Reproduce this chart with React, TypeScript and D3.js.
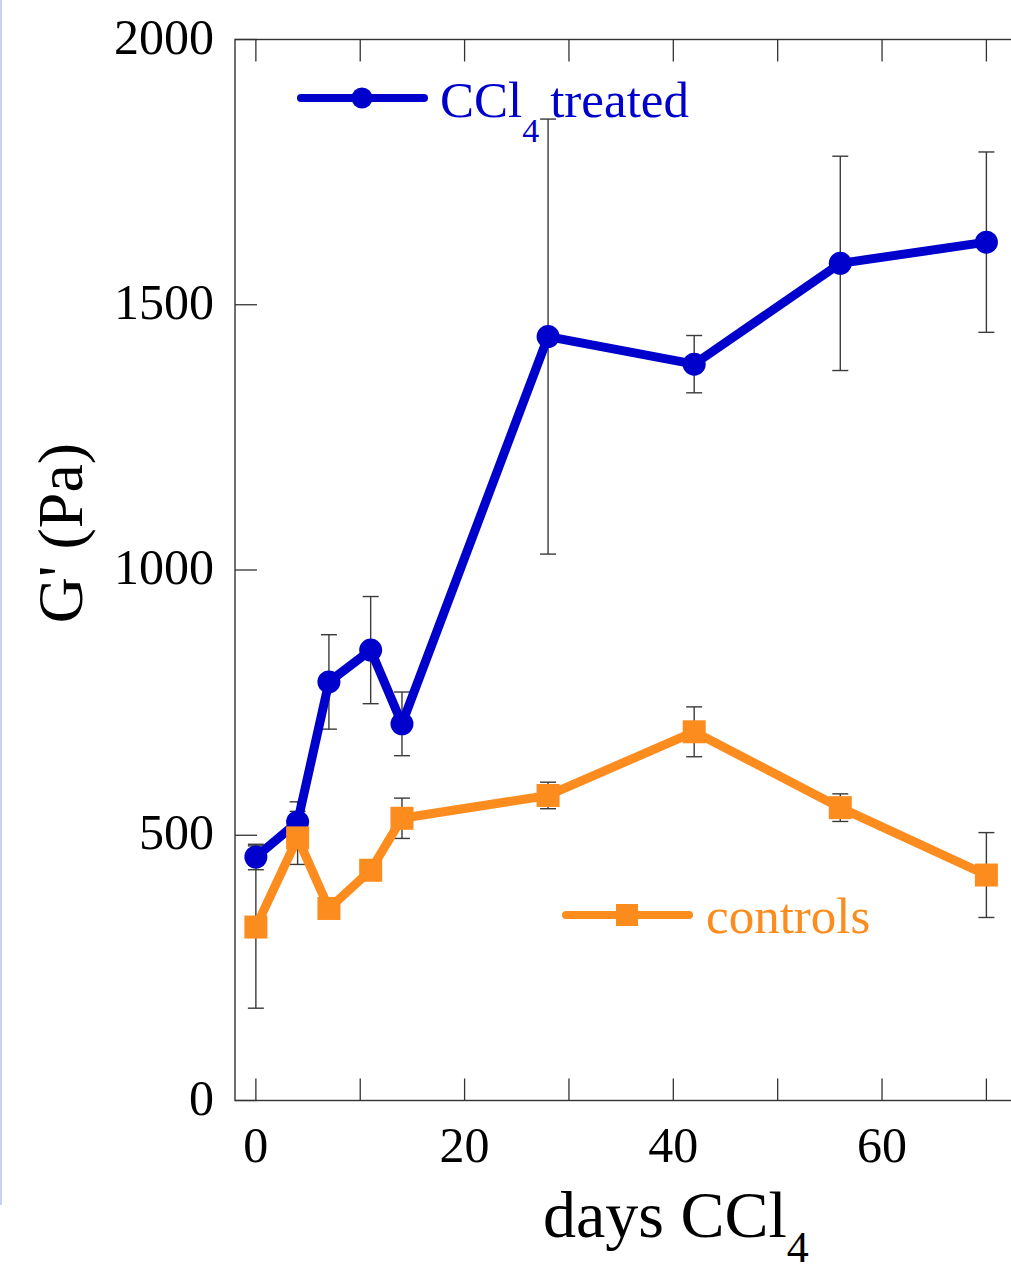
import React from "react";
import * as d3 from "d3";

// days of CCl4 exposure
const days = [0, 4, 7, 11, 14, 28, 42, 56, 70];

// G' (Pa), CCl4 treated
const treatedMean = [459, 525, 789, 849, 710, 1440, 1388, 1578, 1618];
const treatedErr = [24, 38, 89, 101, 60, 410, 54, 202, 170];

// G' (Pa), controls
const controlMean = [327, 495, 362, 434, 532, 575, 695, 552, 425];
const controlErr = [153, 50, 12, 12, 38, 25, 47, 26, 80];

const xTickValues = [0, 10, 20, 30, 40, 50, 60, 70];
const xTickLabels = [0, 20, 40, 60];
const yTickValues = [0, 500, 1000, 1500, 2000];

const W = 1011;
const H = 1271;
const BLUE = "#0000cc";
const ORANGE = "#fd8c1e";
const FONT = "'Liberation Serif', 'Times New Roman', serif";

export default function App() {
  // 10.44 px per day, frame starts at day -2
  const x = d3.scaleLinear().domain([-2, 73]).range([235, 1017.7]);
  const y = d3.scaleLinear().domain([0, 2000]).range([1100.5, 39.5]);

  const line = d3
    .line<number>()
    .x((_, i) => x(days[i]))
    .y((d) => y(d));

  const left = x.range()[0];
  const right = x.range()[1];
  const top = y.range()[1];
  const bottom = y.range()[0];
  const tick = 22;

  const errBars = (mean: number[], err: number[], key: string) =>
    days.map((d, i) => (
      <g key={key + i} stroke="#3a3a3a" strokeWidth={1.4}>
        <line x1={x(d)} x2={x(d)} y1={y(mean[i] + err[i])} y2={y(mean[i] - err[i])} />
        <line x1={x(d) - 8} x2={x(d) + 8} y1={y(mean[i] + err[i])} y2={y(mean[i] + err[i])} />
        <line x1={x(d) - 8} x2={x(d) + 8} y1={y(mean[i] - err[i])} y2={y(mean[i] - err[i])} />
      </g>
    ));

  return (
    <svg
      width={W}
      height={H}
      style={{ position: "absolute", left: 0, top: 0, background: "#fff" }}
      fontFamily={FONT}
    >
      <rect x={0} y={0} width={W} height={H} fill="#fff" />
      {/* faint edge left over from the original crop */}
      <rect x={0} y={0} width={2} height={1205} fill="#c9d1f7" />

      {/* frame */}
      <rect
        x={left}
        y={top}
        width={right - left}
        height={bottom - top}
        fill="none"
        stroke="#333"
        strokeWidth={1.4}
      />

      {/* x ticks, bottom and top, pointing inward */}
      {xTickValues.map((t) => (
        <g key={"xt" + t} stroke="#333" strokeWidth={1.3}>
          <line x1={x(t)} x2={x(t)} y1={bottom} y2={bottom - tick} />
          <line x1={x(t)} x2={x(t)} y1={top} y2={top + tick} />
        </g>
      ))}
      {xTickLabels.map((t) => (
        <text key={"xl" + t} x={x(t)} y={1162} fontSize={50} textAnchor="middle" fill="#000">
          {t}
        </text>
      ))}

      {/* y ticks */}
      {yTickValues.map((t) => (
        <g key={"yt" + t}>
          <line x1={left} x2={left + tick} y1={y(t)} y2={y(t)} stroke="#333" strokeWidth={1.3} />
          <text x={214} y={y(t) + 14} fontSize={50} textAnchor="end" fill="#000">
            {t}
          </text>
        </g>
      ))}

      {/* axis titles */}
      <text x={543} y={1237} fontSize={66} fill="#000">
        days CCl
        <tspan fontSize={44} dy={25}>4</tspan>
      </text>
      <text
        transform="translate(82,533) rotate(-90)"
        textAnchor="middle"
        fontSize={64}
        fill="#000"
      >
        G' (Pa)
      </text>

      {/* error bars */}
      {errBars(treatedMean, treatedErr, "te")}
      {errBars(controlMean, controlErr, "ce")}

      {/* CCl4 treated */}
      <path d={line(treatedMean) ?? ""} fill="none" stroke={BLUE} strokeWidth={9} strokeLinejoin="round" />
      {days.map((d, i) => (
        <circle key={"tc" + i} cx={x(d)} cy={y(treatedMean[i])} r={11.5} fill={BLUE} />
      ))}

      {/* controls */}
      <path d={line(controlMean) ?? ""} fill="none" stroke={ORANGE} strokeWidth={9} strokeLinejoin="round" />
      {days.map((d, i) => (
        <rect
          key={"cr" + i}
          x={x(d) - 11.5}
          y={y(controlMean[i]) - 11.5}
          width={23}
          height={23}
          fill={ORANGE}
        />
      ))}

      {/* legends */}
      <line x1={301} x2={424} y1={98} y2={98} stroke={BLUE} strokeWidth={8} strokeLinecap="round" />
      <circle cx={362} cy={98} r={10.5} fill={BLUE} />
      <text x={440} y={117} fontSize={51} fill={BLUE}>
        CCl
        <tspan fontSize={34} dy={25}>4</tspan>
        <tspan dy={-25} dx={11}>treated</tspan>
      </text>

      <line x1={566} x2={689} y1={915} y2={915} stroke={ORANGE} strokeWidth={8} strokeLinecap="round" />
      <rect x={616} y={904} width={22} height={22} fill={ORANGE} />
      <text x={706} y={933} fontSize={51} fill={ORANGE}>
        controls
      </text>
    </svg>
  );
}
